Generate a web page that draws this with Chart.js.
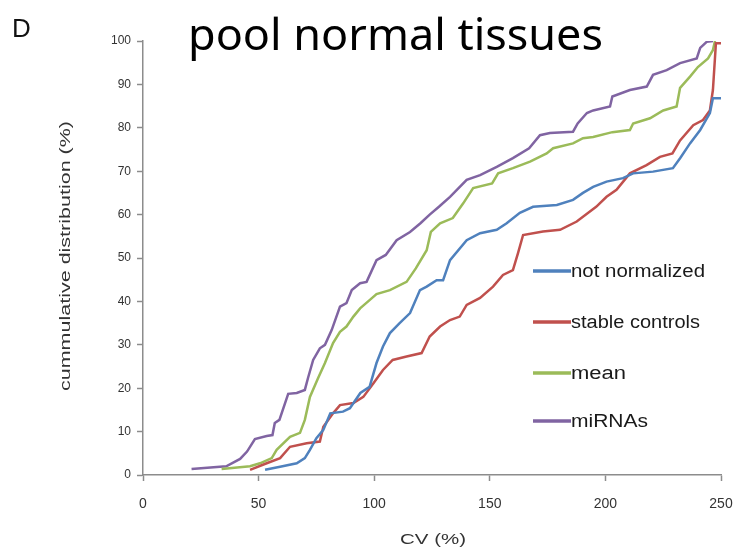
<!DOCTYPE html>
<html>
<head>
<meta charset="utf-8">
<script src="https://cdn.jsdelivr.net/npm/chart.js@4.4.1/dist/chart.umd.min.js"></script>
<style>
  html, body { margin: 0; padding: 0; background: #fff; }
  #wrap { width: 749px; height: 548px; position: relative; }
</style>
</head>
<body>
<div id="wrap"><canvas id="cvChart" width="749" height="548"></canvas></div>
<script>
// ── data ────────────────────────────────────────────────
const seriesNames = ['not normalized', 'stable controls', 'mean', 'miRNAs'];
const seriesColors = ['#4f81bd', '#c0504d', '#9bbb59', '#8064a2'];

const xTicks = [0, 50, 100, 150, 200, 250];
const yTicks = [0, 10, 20, 30, 40, 50, 60, 70, 80, 90, 100];

// not normalized
const notNormX = [52.8, 59.3, 66.5, 70, 72.2, 75, 78, 81, 86.5, 89.5, 94, 98, 101, 103.8, 106.8, 111, 115.5, 119.8, 122.7, 127, 129.8, 132.8, 140, 145.8, 153, 157.3, 163, 168.7, 179, 186, 190.3, 194.7, 200.5, 207.6, 212, 220.6, 229.2, 232.3, 236.6, 241, 245.2, 246.5, 250];
const notNormY = [1.2, 1.9, 2.7, 3.9, 5.8, 8.5, 10.4, 14.2, 14.6, 15.4, 18.9, 20.3, 25.8, 29.6, 32.7, 35, 37.3, 42.6, 43.4, 44.9, 44.9, 49.5, 54.1, 55.7, 56.5, 58, 60.4, 61.8, 62.2, 63.4, 65, 66.4, 67.6, 68.4, 69.5, 69.9, 70.7, 73, 76.4, 79.5, 83.4, 86.8, 86.8];

// stable controls
const stableX = [46.3, 53.5, 59.3, 63.6, 70.8, 76.5, 78, 82.2, 85.2, 91, 95.3, 99.6, 103.8, 108, 114, 120.5, 124, 128.5, 132.8, 137, 140, 145.8, 151.4, 155.7, 160, 162.2, 164.4, 173, 180.4, 187.6, 196, 200.5, 204.8, 210.6, 217.8, 223.6, 229, 232.3, 238, 242.2, 245.2, 246.5, 247.8, 250];
const stableY = [1.2, 2.7, 3.9, 6.5, 7.3, 7.7, 11.1, 14.2, 16.1, 16.6, 18, 21.1, 24.2, 26.5, 27.3, 28.1, 31.9, 34.2, 35.7, 36.5, 39.2, 40.8, 43.4, 46.1, 47.2, 51.1, 55.3, 56.1, 56.5, 58.4, 61.8, 64.1, 65.7, 69.5, 71.4, 73.3, 74.1, 77.1, 80.6, 81.8, 84, 88.7, 99.5, 99.5];

// mean
const meanX = [34, 46.3, 50.6, 55.7, 57.8, 63.6, 67.9, 70, 72.2, 75.7, 78.7, 82.2, 85.2, 88, 91, 93.9, 98, 101, 106.8, 114, 118, 122.7, 124.5, 128.5, 134, 138.5, 142.8, 151, 153.6, 160, 167.4, 174.6, 177.4, 186, 190.3, 194.7, 203, 210.6, 212, 219.3, 225, 230.8, 232.3, 236.6, 240, 244.4, 246.5, 247.4];
const meanY = [1.4, 2, 2.7, 3.9, 5.8, 8.8, 9.7, 12.7, 18, 22.3, 25.8, 30.4, 33, 34.2, 36.5, 38.4, 40.3, 41.7, 42.6, 44.5, 47.6, 51.8, 56, 58, 59.2, 62.6, 66.1, 67.2, 69.5, 70.7, 72.2, 74.1, 75.3, 76.4, 77.6, 77.9, 79, 79.5, 81, 82.2, 84, 84.9, 89.2, 91.8, 94, 96, 97.9, 100];

// miRNAs
const mirX = [21, 36, 42, 45, 48.4, 53.5, 56, 57, 59, 62.8, 66.5, 70, 71.4, 73.6, 76.5, 78.7, 81.6, 85.2, 88, 90.3, 93.9, 96.7, 101, 105, 109.7, 115.5, 120, 124, 128, 132.8, 140, 145.8, 153, 160, 167, 171.7, 176, 186, 188, 192, 194.7, 202, 203, 210.6, 217.9, 220.6, 226.5, 232.3, 239.5, 241, 243.8, 246.5];
const mirY = [1.4, 2, 3.7, 5.4, 8.3, 9, 9.2, 12, 12.7, 18.7, 18.9, 19.6, 22.4, 26.5, 29.2, 30, 33.4, 38.8, 39.6, 42.6, 44.2, 44.5, 49.5, 50.7, 54.1, 56, 58, 60, 61.8, 64.1, 68, 69.1, 71, 73, 75.3, 78.3, 78.8, 79.1, 81, 83.4, 84, 84.9, 87.2, 88.7, 89.5, 92.2, 93.3, 94.9, 96, 98.4, 99.8, 100];

const allX = [notNormX, stableX, meanX, mirX];
const allY = [notNormY, stableY, meanY, mirY];

// ── helpers ─────────────────────────────────────────────
const AXIS_GRAY = '#8c8c8c';

// draws text stretched horizontally to a target width (the source font is wide)
function fitText(ctx, str, x, y, font, width, align, rotate) {
  ctx.save();
  ctx.font = font;
  const m = ctx.measureText(str).width;
  const sx = width ? width / m : 1;
  ctx.translate(x, y);
  if (rotate) ctx.rotate(rotate);
  ctx.scale(sx, 1);
  ctx.textBaseline = 'alphabetic';
  ctx.textAlign = 'left';
  ctx.fillText(str, align === 'center' ? -m / 2 : 0, 0);
  ctx.restore();
}

const decorPlugin = {
  id: 'decor',
  afterDraw(chart) {
    const ctx = chart.ctx;
    ctx.save();
    ctx.fillStyle = '#111';
    fitText(ctx, 'D', 12, 37, '26px "Liberation Sans"', 0, 'left');
    ctx.fillStyle = '#000';
    fitText(ctx, 'pool normal tissues', 188, 50, '44px "Noto Sans"', 415, 'left');

    ctx.fillStyle = '#333';
    fitText(ctx, 'CV (%)', 433, 544, '15px "Liberation Sans"', 66, 'center');
    fitText(ctx, 'cummulative distribution (%)', 70, 256, '14px "Liberation Sans"', 270, 'center', -Math.PI / 2);

    // legend inside the plot
    const legY = [271, 322, 373, 421];
    const legW = [134, 129, 55, 77];
    seriesNames.forEach((name, i) => {
      ctx.strokeStyle = seriesColors[i];
      ctx.lineWidth = 3.5;
      ctx.beginPath();
      ctx.moveTo(533, legY[i]);
      ctx.lineTo(571, legY[i]);
      ctx.stroke();
      ctx.fillStyle = '#1a1a1a';
      fitText(ctx, name, 571, legY[i] + 6, '18px "Liberation Sans"', legW[i], 'left');
    });
    ctx.restore();
  }
};

// ── chart ───────────────────────────────────────────────
const datasets = seriesNames.map((name, i) => ({
  label: name,
  data: allX[i].map((x, j) => ({ x, y: allY[i][j] })),
  showLine: true,
  borderColor: seriesColors[i],
  backgroundColor: seriesColors[i],
  borderWidth: 2.5,
  pointRadius: 0,
  tension: 0,
  fill: false,
}));

new Chart(document.getElementById('cvChart'), {
  type: 'scatter',
  data: { datasets },
  options: {
    responsive: false,
    animation: false,
    devicePixelRatio: 1,
    layout: { padding: { top: 41, right: 28, left: 0, bottom: 0 } },
    plugins: {
      legend: { display: false },
      tooltip: { enabled: false },
    },
    scales: {
      x: {
        type: 'linear',
        min: 0,
        max: 250,
        afterBuildTicks: s => { s.ticks = xTicks.map(v => ({ value: v })); },
        afterFit: s => { s.height = 73; },
        ticks: { color: '#333', font: { family: 'Liberation Sans', size: 14 }, padding: 15, maxRotation: 0 },
        grid: { drawOnChartArea: false, drawTicks: true, tickLength: 6, tickColor: AXIS_GRAY, tickWidth: 1.5 },
        border: { color: AXIS_GRAY, width: 1.5 },
      },
      y: {
        min: 0,
        max: 100,
        afterBuildTicks: s => { s.ticks = yTicks.map(v => ({ value: v })); },
        afterFit: s => { s.width = 143; },
        ticks: { color: '#333', font: { family: 'Liberation Sans', size: 12 }, padding: 6 },
        grid: { drawOnChartArea: false, drawTicks: true, tickLength: 6, tickColor: AXIS_GRAY, tickWidth: 1.5 },
        border: { color: AXIS_GRAY, width: 1.5 },
      },
    },
  },
  plugins: [decorPlugin],
});
</script>
</body>
</html>
